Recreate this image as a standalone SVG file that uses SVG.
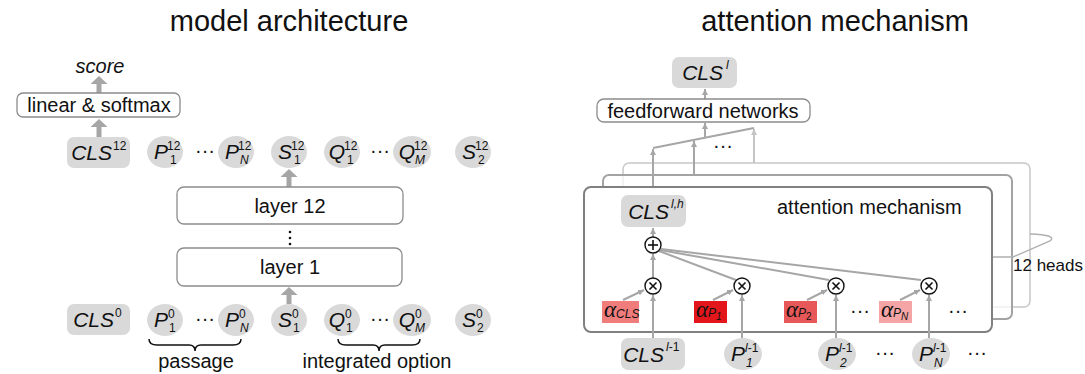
<svg xmlns="http://www.w3.org/2000/svg" width="1085" height="374" viewBox="0 0 1085 374">
<defs>
<style>
text{font-family:"Liberation Sans",Arial,sans-serif;fill:#111}
.title{font-size:29px}
.lbl{font-size:20px}
.nl{font-size:21px}
.it{font-style:italic}
.sup{font-size:12px}
.sm{font-size:12px}
.alpha{font-family:"Liberation Serif","Times New Roman",serif;font-style:italic;font-size:23px}
.node{fill:#d9d9d9}
.box{fill:#fff;stroke:#8c8c8c;stroke-width:1.3}
.thick{stroke:#a6a6a6;stroke-width:5;fill:none}
.thin{stroke:#a6a6a6;stroke-width:2;fill:none}
.op{fill:#fff;stroke:#111;stroke-width:1.4}
.opl{stroke:#111;stroke-width:1.6}
.brace{fill:none;stroke:#111;stroke-width:1.5}
</style>
<marker id="th" viewBox="0 0 8 17" refX="0" refY="8.5" markerWidth="8" markerHeight="17" markerUnits="userSpaceOnUse" orient="auto">
<path d="M0,0 L8,8.5 L0,17 z" fill="#a6a6a6"/>
</marker>
<marker id="ah" viewBox="0 0 6 6" refX="6" refY="3" markerWidth="6" markerHeight="6" markerUnits="userSpaceOnUse" orient="auto">
<path d="M0,0 L6,3 L0,6 z" fill="#a6a6a6"/>
</marker>
<marker id="ahl" viewBox="0 0 6 6" refX="6" refY="3" markerWidth="6" markerHeight="6" markerUnits="userSpaceOnUse" orient="auto">
<path d="M0,0 L6,3 L0,6 z" fill="#c4c4c4"/>
</marker>
</defs>
<rect width="1085" height="374" fill="#fff"/>

<!-- ===== LEFT: model architecture ===== -->
<text class="title" x="289" y="31" text-anchor="middle">model architecture</text>

<g id="connectors-left">
<line class="thick" x1="99" y1="93" x2="99" y2="84" marker-end="url(#th)"/>
<line class="thick" x1="99" y1="137" x2="99" y2="127" marker-end="url(#th)"/>
<line class="thick" x1="289" y1="187" x2="289" y2="177" marker-end="url(#th)"/>
<line class="thick" x1="289" y1="304" x2="289" y2="295" marker-end="url(#th)"/>
</g>

<g id="score"><text class="lbl it" x="100" y="73" text-anchor="middle">score</text></g>
<g id="linear-softmax">
<rect class="box" x="17" y="93" width="163" height="24" rx="6"/>
<text class="lbl" x="99" y="112" text-anchor="middle">linear &amp; softmax</text>
</g>

<!-- top row (layer 12 outputs) -->
<g id="cls12">
<rect class="node" x="67" y="137" width="63" height="31" rx="7"/>
<text class="nl it" x="112" y="160" text-anchor="end">CLS</text>
<text class="sup" x="113" y="150">12</text>
</g>
<g id="p1-12">
<ellipse class="node" cx="165" cy="152" rx="18" ry="16"/>
<text class="nl it" x="168" y="159" text-anchor="end">P</text>
<text class="sup" x="167" y="150">12</text><text class="sup" x="170" y="164">1</text>
</g>
<text class="lbl" x="205" y="157" text-anchor="middle">···</text>
<g id="pn-12">
<ellipse class="node" cx="236" cy="152" rx="18" ry="16"/>
<text class="nl it" x="239" y="159" text-anchor="end">P</text>
<text class="sup" x="238" y="150">12</text><text class="sup it" x="240" y="164">N</text>
</g>
<g id="s1-12">
<ellipse class="node" cx="289" cy="152" rx="18" ry="16"/>
<text class="nl it" x="292" y="159" text-anchor="end">S</text>
<text class="sup" x="291" y="150">12</text><text class="sup" x="294" y="164">1</text>
</g>
<g id="q1-12">
<ellipse class="node" cx="342" cy="152" rx="18" ry="16"/>
<text class="nl it" x="345" y="159" text-anchor="end">Q</text>
<text class="sup" x="344" y="150">12</text><text class="sup" x="347" y="164">1</text>
</g>
<text class="lbl" x="380" y="157" text-anchor="middle">···</text>
<g id="qm-12">
<ellipse class="node" cx="412" cy="152" rx="19" ry="16"/>
<text class="nl it" x="415" y="159" text-anchor="end">Q</text>
<text class="sup" x="414" y="150">12</text><text class="sup it" x="415" y="164">M</text>
</g>
<g id="s2-12">
<ellipse class="node" cx="473" cy="152" rx="18" ry="16"/>
<text class="nl it" x="476" y="159" text-anchor="end">S</text>
<text class="sup" x="475" y="150">12</text><text class="sup" x="478" y="164">2</text>
</g>

<g id="layer12">
<rect class="box" x="177" y="187" width="226" height="37" rx="7"/>
<text class="lbl" x="290" y="213" text-anchor="middle">layer 12</text>
</g>
<g id="vdots">
<circle cx="290" cy="232" r="1.3" fill="#111"/>
<circle cx="290" cy="238" r="1.3" fill="#111"/>
<circle cx="290" cy="244" r="1.3" fill="#111"/>
</g>
<g id="layer1">
<rect class="box" x="177" y="248" width="225" height="38" rx="7"/>
<text class="lbl" x="290" y="274" text-anchor="middle">layer 1</text>
</g>

<!-- bottom row (inputs) -->
<g id="cls0">
<rect class="node" x="67" y="304" width="63" height="31" rx="7"/>
<text class="nl it" x="114" y="327" text-anchor="end">CLS</text>
<text class="sup" x="115" y="317">0</text>
</g>
<g id="p1-0">
<ellipse class="node" cx="165" cy="320" rx="18" ry="16"/>
<text class="nl it" x="168" y="327" text-anchor="end">P</text>
<text class="sup" x="168" y="318">0</text><text class="sup" x="169" y="332">1</text>
</g>
<text class="lbl" x="205" y="325" text-anchor="middle">···</text>
<g id="pn-0">
<ellipse class="node" cx="236" cy="320" rx="18" ry="16"/>
<text class="nl it" x="239" y="327" text-anchor="end">P</text>
<text class="sup" x="239" y="318">0</text><text class="sup it" x="240" y="332">N</text>
</g>
<g id="s1-0">
<ellipse class="node" cx="289" cy="320" rx="18" ry="16"/>
<text class="nl it" x="292" y="327" text-anchor="end">S</text>
<text class="sup" x="292" y="318">0</text><text class="sup" x="293" y="332">1</text>
</g>
<g id="q1-0">
<ellipse class="node" cx="342" cy="320" rx="18" ry="16"/>
<text class="nl it" x="345" y="327" text-anchor="end">Q</text>
<text class="sup" x="345" y="318">0</text><text class="sup" x="346" y="332">1</text>
</g>
<text class="lbl" x="380" y="325" text-anchor="middle">···</text>
<g id="qm-0">
<ellipse class="node" cx="412" cy="320" rx="19" ry="16"/>
<text class="nl it" x="415" y="327" text-anchor="end">Q</text>
<text class="sup" x="415" y="318">0</text><text class="sup it" x="415" y="332">M</text>
</g>
<g id="s2-0">
<ellipse class="node" cx="473" cy="320" rx="18" ry="16"/>
<text class="nl it" x="476" y="327" text-anchor="end">S</text>
<text class="sup" x="476" y="318">0</text><text class="sup" x="477" y="332">2</text>
</g>

<g id="passage">
<path class="brace" d="M149,339 Q149,345 157,345 L189,345 Q195,345 195,351 Q195,345 201,345 L233,345 Q241,345 241,339"/>
<text class="lbl" x="196" y="368" text-anchor="middle">passage</text>
</g>
<g id="integrated-option">
<path class="brace" d="M338,339 Q338,345 346,345 L373,345 Q379,345 379,351 Q379,345 385,345 L412,345 Q420,345 420,339"/>
<text class="lbl" x="377" y="368" text-anchor="middle">integrated option</text>
</g>

<!-- ===== RIGHT: attention mechanism ===== -->
<text class="title" x="835" y="31" text-anchor="middle">attention mechanism</text>

<g id="frames">
<rect x="623" y="163" width="407" height="144" rx="6" fill="#fff" stroke="#c8c8c8" stroke-width="1.5"/>
<rect x="603" y="175" width="409" height="144" rx="6" fill="#fff" fill-opacity="0.7" stroke="#a3a3a3" stroke-width="2"/>
</g>

<g id="connectors-heads">
<line x1="754" y1="163" x2="754" y2="129" stroke="#c4c4c4" stroke-width="2" marker-end="url(#ahl)"/>
<line class="thin" x1="694" y1="175" x2="694" y2="141" marker-end="url(#ah)"/>
<line class="thin" x1="653" y1="195" x2="653" y2="149" marker-end="url(#ah)"/>
<path class="thin" d="M653,148 L754,128"/>
<line class="thin" x1="705" y1="138" x2="705" y2="123" marker-end="url(#ah)"/>
<line class="thin" x1="705" y1="99" x2="705" y2="89" marker-end="url(#ah)"/>
<path d="M992,257 L1013,257 L1050,241 Q1058,235 1030,234" fill="none" stroke="#b0b0b0" stroke-width="1.4"/>
</g>
<text class="lbl" x="723" y="152" text-anchor="middle">···</text>

<g id="cls-l">
<rect class="node" x="672" y="57" width="65" height="31" rx="7"/>
<text class="nl it" x="723" y="80" text-anchor="end">CLS</text>
<text class="sup it" x="726" y="69">l</text>
</g>
<g id="feedforward">
<rect class="box" x="597" y="99" width="213" height="23" rx="7"/>
<text class="lbl" x="703" y="118" text-anchor="middle">feedforward networks</text>
</g>

<g id="attention-head">
<rect x="584" y="187" width="408" height="145" rx="7" fill="#fff" stroke="#808080" stroke-width="2"/>
<text class="lbl" x="777" y="214">attention mechanism</text>
</g>

<g id="cls-lh">
<rect class="node" x="621" y="195" width="65" height="32" rx="7"/>
<text class="nl it" x="669" y="219" text-anchor="end">CLS</text>
<text class="sup it" x="671" y="208">l,h</text>
</g>

<g id="connectors-attn">
<line class="thin" x1="653" y1="237" x2="653" y2="228" marker-end="url(#ah)"/>
<line class="thin" x1="653" y1="278" x2="653" y2="254" marker-end="url(#ah)"/>
<line class="thin" x1="736" y1="280" x2="659" y2="251"/>
<line class="thin" x1="829" y1="280" x2="660" y2="250"/>
<line class="thin" x1="921" y1="280" x2="661" y2="249"/>
<line class="thin" x1="623" y1="300" x2="644" y2="290" marker-end="url(#ah)"/>
<line class="thin" x1="713" y1="300" x2="733" y2="290" marker-end="url(#ah)"/>
<line class="thin" x1="807" y1="300" x2="827" y2="290" marker-end="url(#ah)"/>
<line class="thin" x1="900" y1="300" x2="920" y2="290" marker-end="url(#ah)"/>
<line class="thin" x1="653" y1="338" x2="653" y2="295" marker-end="url(#ah)"/>
<line class="thin" x1="742" y1="338" x2="742" y2="295" marker-end="url(#ah)"/>
<line class="thin" x1="836" y1="338" x2="836" y2="295" marker-end="url(#ah)"/>
<line class="thin" x1="929" y1="338" x2="929" y2="295" marker-end="url(#ah)"/>
</g>

<g id="plus">
<circle class="op" cx="653" cy="245" r="8"/>
<line class="opl" x1="648" y1="245" x2="658" y2="245"/>
<line class="opl" x1="653" y1="240" x2="653" y2="250"/>
</g>
<g id="times1"><circle class="op" cx="653" cy="286" r="8"/><path class="opl" d="M649.5,282.5 L656.5,289.5 M656.5,282.5 L649.5,289.5"/></g>
<g id="times2"><circle class="op" cx="742" cy="286" r="8"/><path class="opl" d="M738.5,282.5 L745.5,289.5 M745.5,282.5 L738.5,289.5"/></g>
<g id="times3"><circle class="op" cx="836" cy="286" r="8"/><path class="opl" d="M832.5,282.5 L839.5,289.5 M839.5,282.5 L832.5,289.5"/></g>
<g id="times4"><circle class="op" cx="929" cy="286" r="8"/><path class="opl" d="M925.5,282.5 L932.5,289.5 M932.5,282.5 L925.5,289.5"/></g>

<g id="alpha-cls">
<rect x="602" y="301" width="37" height="22" fill="#f07c7c"/>
<text x="604" y="317"><tspan class="alpha">α</tspan><tspan class="sm it" dy="1">CLS</tspan></text>
</g>
<g id="alpha-p1">
<rect x="694" y="301" width="33" height="22" fill="#e3161c"/>
<text x="696" y="317"><tspan class="alpha">α</tspan><tspan class="sm it" dy="0">P</tspan><tspan class="it" font-size="10" dy="3">1</tspan></text>
</g>
<g id="alpha-p2">
<rect x="784" y="301" width="33" height="22" fill="#e85858"/>
<text x="786" y="317"><tspan class="alpha">α</tspan><tspan class="sm it" dy="0">P</tspan><tspan font-size="10" dy="3">2</tspan></text>
</g>
<text class="lbl" x="860" y="317" text-anchor="middle">···</text>
<g id="alpha-pn">
<rect x="879" y="301" width="33" height="22" fill="#f5a5a5"/>
<text x="881" y="317"><tspan class="alpha">α</tspan><tspan class="sm it" dy="0">P</tspan><tspan class="it" font-size="10" dy="3">N</tspan></text>
</g>
<text class="lbl" x="958" y="317" text-anchor="middle">···</text>

<g id="cls-l1">
<rect class="node" x="621" y="338" width="64" height="32" rx="7"/>
<text class="nl it" x="664" y="362" text-anchor="end">CLS</text>
<text class="sup" x="666" y="351"><tspan class="it">l</tspan>-1</text>
</g>
<g id="p1-l1">
<ellipse class="node" cx="743" cy="354" rx="19" ry="16"/>
<text class="nl it" x="745" y="361" text-anchor="end">P</text>
<text class="sup" x="745" y="352"><tspan class="it">l</tspan>-1</text><text class="sup it" x="746" y="367">1</text>
</g>
<g id="p2-l1">
<ellipse class="node" cx="837" cy="354" rx="19" ry="16"/>
<text class="nl it" x="839" y="361" text-anchor="end">P</text>
<text class="sup" x="839" y="352"><tspan class="it">l</tspan>-1</text><text class="sup it" x="840" y="367">2</text>
</g>
<text class="lbl" x="885" y="359" text-anchor="middle">···</text>
<g id="pn-l1">
<ellipse class="node" cx="931" cy="354" rx="19" ry="16"/>
<text class="nl it" x="933" y="361" text-anchor="end">P</text>
<text class="sup" x="933" y="352"><tspan class="it">l</tspan>-1</text><text class="sup it" x="934" y="367">N</text>
</g>
<text class="lbl" x="977" y="359" text-anchor="middle">···</text>

<g id="heads-label"><text x="1013" y="271" font-size="17">12 heads</text></g>
</svg>
